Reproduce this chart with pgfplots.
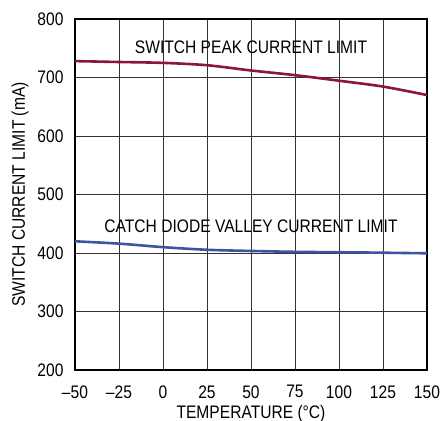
\documentclass[border=0pt]{standalone}
\usepackage{pgfplots}
\pgfplotsset{compat=1.18}
\usepackage{fontspec}
\setmainfont{Liberation Sans}[FakeStretch=0.86]
\definecolor{peakred}{HTML}{8C1538}
\definecolor{valleyblue}{HTML}{3B55A3}
\begin{document}
\begin{tikzpicture}
\begin{axis}[
    scale only axis,
    width=352bp, height=351bp,
    xmin=-50, xmax=150, ymin=200, ymax=800,
    xtick={-50,-25,0,25,50,75,100,125,150},
    xticklabels={\textendash50,\textendash25,0,25,50,75,100,125,150},
    ytick={200,300,400,500,600,700,800},
    grid=major,
    grid style={black!80, line width=0.8bp},
    axis line style={line width=1.3bp},
    major tick length=0pt,
    font=\fontsize{18.2}{21}\selectfont,
    /pgf/number format/assume math mode=true,
    yticklabel style={xshift=-8bp},
    xticklabel style={yshift=-12bp},
    xlabel={TEMPERATURE (°C)},
    ylabel={SWITCH CURRENT LIMIT (mA)},
    xlabel style={yshift=0bp},
    ylabel style={yshift=2bp},
]
\coordinate (bl) at (rel axis cs:0,0);
\addplot[peakred, line width=2.6bp, smooth] coordinates {
  (-50,728) (-25,726.5) (0,725) (25,721) (50,712) (75,704) (100,694.5) (125,684.5) (150,670)};
\addplot[valleyblue, line width=2.6bp, smooth] coordinates {
  (-50,420) (-25,416) (0,410) (25,405.5) (50,403.5) (75,402) (100,401.3) (125,400.5) (150,399.5)};
\node at (axis cs:50,752) {SWITCH PEAK CURRENT LIMIT};
\node at (axis cs:50,445) {CATCH DIODE VALLEY CURRENT LIMIT};
\end{axis}
\pgfresetboundingbox
\path (bl) ++(-75bp,-51bp) rectangle ++(441bp,421bp);
\end{tikzpicture}
\end{document}
